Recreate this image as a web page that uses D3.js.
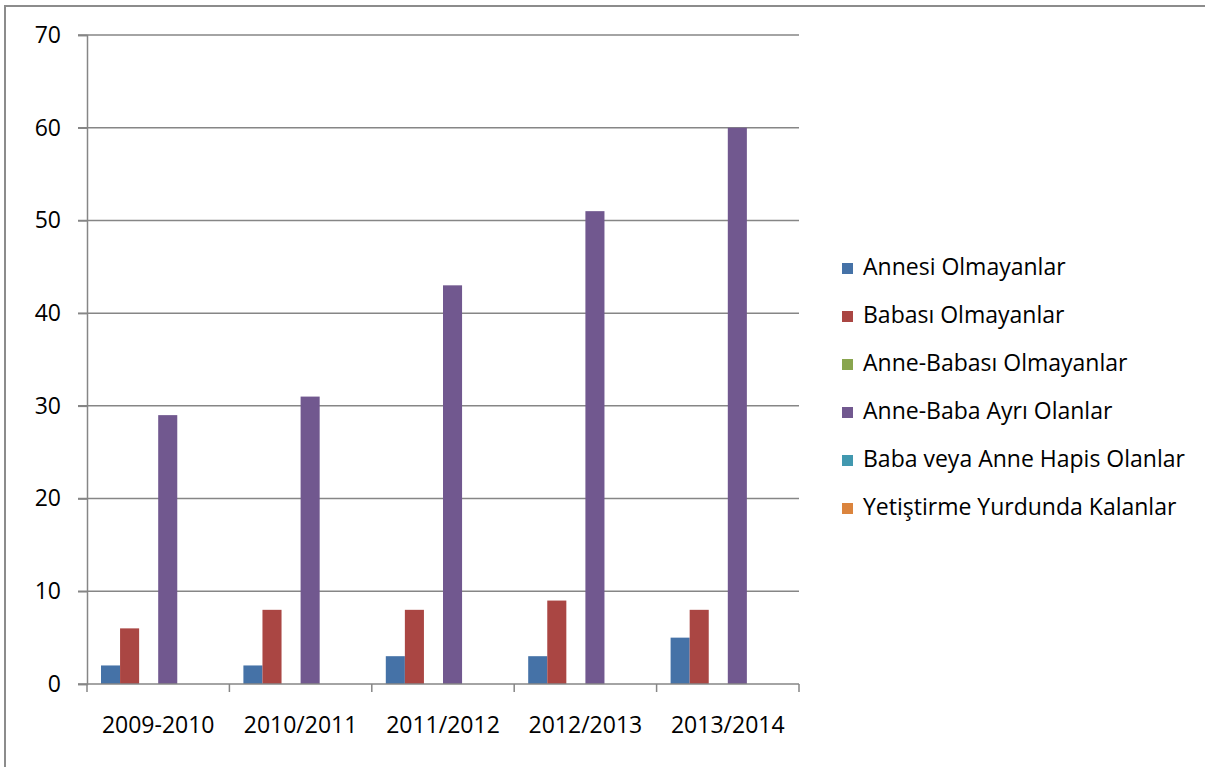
<!DOCTYPE html>
<html>
<head>
<meta charset="utf-8">
<script src="https://cdn.jsdelivr.net/npm/d3@7"></script>
<style>
  html, body { margin: 0; padding: 0; background: #fff; }
  svg text { font-family: "Open Sans", "Noto Sans", sans-serif; fill: #000; }
</style>
</head>
<body>
<svg id="chart" width="1205" height="767"></svg>
<script>
const categories = ["2009-2010", "2010/2011", "2011/2012", "2012/2013", "2013/2014"];
const seriesNames = ["Annesi Olmayanlar", "Babası Olmayanlar", "Anne-Babası Olmayanlar", "Anne-Baba Ayrı Olanlar", "Baba veya Anne Hapis Olanlar", "Yetiştirme Yurdunda Kalanlar"];
const annesiOlmayanlar = [2, 2, 3, 3, 5];
const babasiOlmayanlar = [6, 8, 8, 9, 8];
const anneBabasiOlmayanlar = [0, 0, 0, 0, 0];
const anneBabaAyri = [29, 31, 43, 51, 60];
const hapisOlanlar = [0, 0, 0, 0, 0];
const yurdundaKalanlar = [0, 0, 0, 0, 0];
const yTicks = [0, 10, 20, 30, 40, 50, 60, 70];
const colors = ["#4572A7", "#AA4643", "#89A54E", "#71588F", "#4198AF", "#DB843D"];

const seriesValues = [annesiOlmayanlar, babasiOlmayanlar, anneBabasiOlmayanlar, anneBabaAyri, hapisOlanlar, yurdundaKalanlar];

(function () {
const svg = d3.select("#chart");
const pLeft = 87, pRight = 799, pTop = 35, pBottom = 684;
const FS = 23;

// outer border
svg.append("path")
  .attr("d", "M5,767 L5,6 L1205,6")
  .attr("fill", "none").attr("stroke", "#8c8c8c").attr("stroke-width", 2);

const x0 = d3.scaleBand().domain(categories).range([pLeft, pRight]).paddingInner(0).paddingOuter(0);
const x1 = d3.scaleBand().domain(d3.range(6)).range([14, x0.bandwidth() - 14]).padding(0);
const y = d3.scaleLinear().domain([0, 70]).range([pBottom, pTop]);

// gridlines
svg.append("g").selectAll("line").data(yTicks.filter(d => d > 0)).join("line")
  .attr("x1", pLeft - 9).attr("x2", pRight)
  .attr("y1", d => y(d)).attr("y2", d => y(d))
  .attr("stroke", "#868686").attr("stroke-width", 1.5);

// bars
const groups = svg.append("g").selectAll("g").data(categories).join("g")
  .attr("transform", c => `translate(${x0(c)},0)`);
groups.selectAll("rect").data((c, i) => seriesValues.map((s, k) => ({k, v: s[i]}))).join("rect")
  .attr("x", d => x1(d.k)).attr("width", x1.bandwidth())
  .attr("y", d => y(d.v)).attr("height", d => y(0) - y(d.v))
  .attr("fill", d => colors[d.k]);

// y axis
const yAxis = svg.append("g").attr("transform", `translate(${pLeft},0)`)
  .call(d3.axisLeft(y).tickValues(yTicks).tickSize(9).tickPadding(17).tickFormat(d3.format("d")));
yAxis.select(".domain").attr("stroke", "#868686").attr("stroke-width", 1.5);
yAxis.selectAll(".tick line").attr("stroke", "#868686").attr("stroke-width", 1.5);
yAxis.selectAll("text").attr("font-size", FS).attr("font-family", "Open Sans").attr("fill", "#000");

// x axis
const xAxisG = svg.append("g").attr("transform", `translate(0,${pBottom})`);
xAxisG.append("line").attr("x1", pLeft - 9).attr("x2", pRight).attr("y1", 0).attr("y2", 0)
  .attr("stroke", "#868686").attr("stroke-width", 1.5);
const boundaries = categories.map(c => x0(c)).concat([pRight]);
xAxisG.selectAll("line.tk").data(boundaries).join("line").attr("class", "tk")
  .attr("x1", d => d).attr("x2", d => d).attr("y1", 0).attr("y2", 8)
  .attr("stroke", "#868686").attr("stroke-width", 1.5);
xAxisG.selectAll("text").data(categories).join("text")
  .attr("x", c => x0(c) + x0.bandwidth() / 2).attr("y", 49)
  .attr("text-anchor", "middle").attr("font-size", FS).text(c => c);

// legend
const legend = svg.append("g").selectAll("g").data(seriesNames).join("g")
  .attr("transform", (d, i) => `translate(842,${268 + i * 48})`);
legend.append("rect").attr("x", 0).attr("y", -5).attr("width", 11).attr("height", 11)
  .attr("fill", (d, i) => colors[i]);
legend.append("text").attr("x", 21).attr("y", 7).attr("font-size", FS).text(d => d);
})();
</script>
</body>
</html>
